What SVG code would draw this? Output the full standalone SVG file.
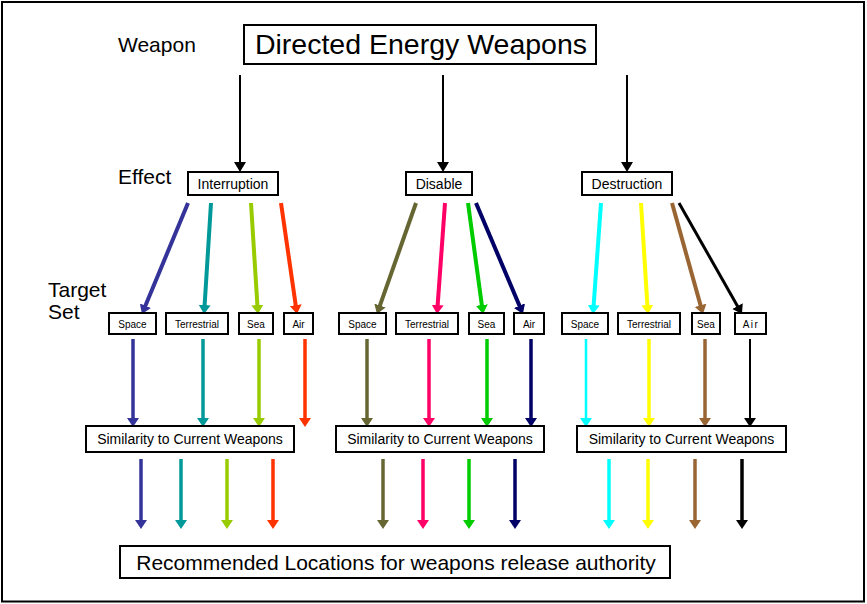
<svg xmlns="http://www.w3.org/2000/svg" width="867" height="604" viewBox="0 0 867 604">
<style>
  text { font-family: "Liberation Sans", Arial, sans-serif; fill: #000; }
  .box { fill: #fff; stroke: #000; stroke-width: 2; }
  .lbl { font-size: 21px; }
  .eff { font-size: 14px; text-anchor: middle; }
  .tgt { font-size: 10px; text-anchor: middle; }
  .sim { font-size: 14px; text-anchor: middle; }
</style>
<defs>
  <marker id="mk" markerUnits="userSpaceOnUse" markerWidth="14" markerHeight="14" refX="6" refY="6" orient="auto" viewBox="0 0 14 14"><path d="M0,0 L10,6 L0,12 z" fill="#000"/></marker>
  <marker id="m1" markerUnits="userSpaceOnUse" markerWidth="14" markerHeight="14" refX="5" refY="6" orient="auto" viewBox="0 0 14 14"><path d="M0,0 L9,6 L0,12 z" fill="#333399"/></marker>
  <marker id="m2" markerUnits="userSpaceOnUse" markerWidth="14" markerHeight="14" refX="5" refY="6" orient="auto" viewBox="0 0 14 14"><path d="M0,0 L9,6 L0,12 z" fill="#009999"/></marker>
  <marker id="m3" markerUnits="userSpaceOnUse" markerWidth="14" markerHeight="14" refX="5" refY="6" orient="auto" viewBox="0 0 14 14"><path d="M0,0 L9,6 L0,12 z" fill="#99CC00"/></marker>
  <marker id="m4" markerUnits="userSpaceOnUse" markerWidth="14" markerHeight="14" refX="5" refY="6" orient="auto" viewBox="0 0 14 14"><path d="M0,0 L9,6 L0,12 z" fill="#FF3300"/></marker>
  <marker id="m5" markerUnits="userSpaceOnUse" markerWidth="14" markerHeight="14" refX="5" refY="6" orient="auto" viewBox="0 0 14 14"><path d="M0,0 L9,6 L0,12 z" fill="#666633"/></marker>
  <marker id="m6" markerUnits="userSpaceOnUse" markerWidth="14" markerHeight="14" refX="5" refY="6" orient="auto" viewBox="0 0 14 14"><path d="M0,0 L9,6 L0,12 z" fill="#FF0066"/></marker>
  <marker id="m7" markerUnits="userSpaceOnUse" markerWidth="14" markerHeight="14" refX="5" refY="6" orient="auto" viewBox="0 0 14 14"><path d="M0,0 L9,6 L0,12 z" fill="#00CC00"/></marker>
  <marker id="m8" markerUnits="userSpaceOnUse" markerWidth="14" markerHeight="14" refX="5" refY="6" orient="auto" viewBox="0 0 14 14"><path d="M0,0 L9,6 L0,12 z" fill="#000066"/></marker>
  <marker id="m9" markerUnits="userSpaceOnUse" markerWidth="14" markerHeight="14" refX="5" refY="6" orient="auto" viewBox="0 0 14 14"><path d="M0,0 L9,6 L0,12 z" fill="#00FFFF"/></marker>
  <marker id="m10" markerUnits="userSpaceOnUse" markerWidth="14" markerHeight="14" refX="5" refY="6" orient="auto" viewBox="0 0 14 14"><path d="M0,0 L9,6 L0,12 z" fill="#FFFF00"/></marker>
  <marker id="m11" markerUnits="userSpaceOnUse" markerWidth="14" markerHeight="14" refX="5" refY="6" orient="auto" viewBox="0 0 14 14"><path d="M0,0 L9,6 L0,12 z" fill="#996633"/></marker>
  <marker id="m12" markerUnits="userSpaceOnUse" markerWidth="14" markerHeight="14" refX="5" refY="6" orient="auto" viewBox="0 0 14 14"><path d="M0,0 L9,6 L0,12 z" fill="#000"/></marker>
</defs>

<rect x="2" y="2" width="862" height="599.5" fill="#fff" stroke="#000" stroke-width="2"/>

<g id="labels">
  <text class="lbl" x="118" y="52">Weapon</text>
  <text class="lbl" x="118" y="184">Effect</text>
  <text class="lbl" x="48" y="297">Target</text>
  <text class="lbl" x="48" y="319">Set</text>
</g>

<g id="connectors">
  <g stroke="#000" stroke-width="2" marker-end="url(#mk)">
    <line x1="240" y1="75" x2="240" y2="168"/>
    <line x1="443" y1="75" x2="443" y2="168"/>
    <line x1="627" y1="75" x2="627" y2="168"/>
  </g>
  <g stroke-width="4">
    <line x1="188" y1="203" x2="143.5" y2="310.3" stroke="#333399" marker-end="url(#m1)"/>
    <line x1="211" y1="203" x2="204.3" y2="310" stroke="#009999" marker-end="url(#m2)"/>
    <line x1="251" y1="203" x2="257.7" y2="310" stroke="#99CC00" marker-end="url(#m3)"/>
    <line x1="281" y1="203" x2="296.4" y2="310" stroke="#FF3300" marker-end="url(#m4)"/>
    <line x1="416" y1="203" x2="378.3" y2="310.2" stroke="#666633" marker-end="url(#m5)"/>
    <line x1="445" y1="203" x2="437.3" y2="310" stroke="#FF0066" marker-end="url(#m6)"/>
    <line x1="468" y1="203" x2="482.5" y2="310" stroke="#00CC00" marker-end="url(#m7)"/>
    <line x1="476" y1="203" x2="521.4" y2="310.3" stroke="#000066" marker-end="url(#m8)"/>
    <line x1="601" y1="203" x2="593.3" y2="310" stroke="#00FFFF" marker-end="url(#m9)"/>
    <line x1="641" y1="203" x2="647.7" y2="310" stroke="#FFFF00" marker-end="url(#m10)"/>
    <line x1="672" y1="203" x2="701.9" y2="310.1" stroke="#996633" marker-end="url(#m11)"/>
    <line x1="679" y1="203" x2="740" y2="310.5" stroke="#000" stroke-width="3" marker-end="url(#m12)"/>
  </g>
  <g stroke-width="3.5">
    <line x1="133" y1="339" x2="133" y2="423" stroke="#333399" marker-end="url(#m1)"/>
    <line x1="203" y1="339" x2="203" y2="423" stroke="#009999" marker-end="url(#m2)"/>
    <line x1="259" y1="339" x2="259" y2="423" stroke="#99CC00" marker-end="url(#m3)"/>
    <line x1="305" y1="339" x2="305" y2="423" stroke="#FF3300" marker-end="url(#m4)"/>
    <line x1="367" y1="339" x2="367" y2="423" stroke="#666633" marker-end="url(#m5)"/>
    <line x1="429" y1="339" x2="429" y2="423" stroke="#FF0066" marker-end="url(#m6)"/>
    <line x1="487" y1="339" x2="487" y2="423" stroke="#00CC00" marker-end="url(#m7)"/>
    <line x1="531" y1="339" x2="531" y2="423" stroke="#000066" marker-end="url(#m8)"/>
    <line x1="586" y1="339" x2="586" y2="423" stroke="#00FFFF" stroke-width="2.5" marker-end="url(#m9)"/>
    <line x1="649" y1="339" x2="649" y2="423" stroke="#FFFF00" marker-end="url(#m10)"/>
    <line x1="705" y1="339" x2="705" y2="423" stroke="#996633" marker-end="url(#m11)"/>
    <line x1="750" y1="339" x2="750" y2="423" stroke="#000" stroke-width="2" marker-end="url(#m12)"/>
  </g>
  <g stroke-width="3.5">
    <line x1="141" y1="459" x2="141" y2="525" stroke="#333399" marker-end="url(#m1)"/>
    <line x1="181" y1="459" x2="181" y2="525" stroke="#009999" marker-end="url(#m2)"/>
    <line x1="227" y1="459" x2="227" y2="525" stroke="#99CC00" marker-end="url(#m3)"/>
    <line x1="273" y1="459" x2="273" y2="525" stroke="#FF3300" marker-end="url(#m4)"/>
    <line x1="383" y1="459" x2="383" y2="525" stroke="#666633" marker-end="url(#m5)"/>
    <line x1="423" y1="459" x2="423" y2="525" stroke="#FF0066" marker-end="url(#m6)"/>
    <line x1="469" y1="459" x2="469" y2="525" stroke="#00CC00" marker-end="url(#m7)"/>
    <line x1="515" y1="459" x2="515" y2="525" stroke="#000066" marker-end="url(#m8)"/>
    <line x1="609" y1="459" x2="609" y2="525" stroke="#00FFFF" marker-end="url(#m9)"/>
    <line x1="648" y1="459" x2="648" y2="525" stroke="#FFFF00" marker-end="url(#m10)"/>
    <line x1="695" y1="459" x2="695" y2="525" stroke="#996633" marker-end="url(#m11)"/>
    <line x1="742" y1="459" x2="742" y2="525" stroke="#000" marker-end="url(#m12)"/>
  </g>
</g>

<g id="weapon">
  <rect class="box" x="244" y="25" width="352" height="39"/>
  <text x="421" y="54" font-size="28.5" text-anchor="middle">Directed Energy Weapons</text>
</g>

<g id="interruption">
  <rect class="box" x="188" y="172" width="90" height="23"/>
  <text class="eff" x="233" y="189">Interruption</text>
</g>
<g id="disable">
  <rect class="box" x="406" y="172" width="66" height="23"/>
  <text class="eff" x="439" y="189">Disable</text>
</g>
<g id="destruction">
  <rect class="box" x="582" y="172" width="90" height="23"/>
  <text class="eff" x="627" y="189">Destruction</text>
</g>

<g id="int-space"><rect class="box" x="109" y="313" width="47" height="21"/><text class="tgt" x="132.5" y="328">Space</text></g>
<g id="int-terrestrial"><rect class="box" x="166" y="313" width="62" height="21"/><text class="tgt" x="197" y="328">Terrestrial</text></g>
<g id="int-sea"><rect class="box" x="239" y="313" width="34" height="21"/><text class="tgt" x="256" y="328">Sea</text></g>
<g id="int-air"><rect class="box" x="284" y="313" width="29" height="21"/><text class="tgt" x="298.5" y="328">Air</text></g>

<g id="dis-space"><rect class="box" x="339" y="313" width="47" height="21"/><text class="tgt" x="362.5" y="328">Space</text></g>
<g id="dis-terrestrial"><rect class="box" x="396" y="313" width="62" height="21"/><text class="tgt" x="427" y="328">Terrestrial</text></g>
<g id="dis-sea"><rect class="box" x="469" y="313" width="35" height="21"/><text class="tgt" x="486.5" y="328">Sea</text></g>
<g id="dis-air"><rect class="box" x="514" y="313" width="30" height="21"/><text class="tgt" x="529" y="328">Air</text></g>

<g id="des-space"><rect class="box" x="562" y="313" width="46" height="21"/><text class="tgt" x="585" y="328">Space</text></g>
<g id="des-terrestrial"><rect class="box" x="618" y="313" width="62" height="21"/><text class="tgt" x="649" y="328">Terrestrial</text></g>
<g id="des-sea"><rect class="box" x="692" y="313" width="28" height="21"/><text class="tgt" x="706" y="328">Sea</text></g>
<g id="des-air"><rect class="box" x="735" y="313" width="31" height="21"/><text class="tgt" x="751" y="328" letter-spacing="1.5">Air</text></g>

<g id="sim-1"><rect class="box" x="86" y="426" width="208" height="26"/><text class="sim" x="190" y="444">Similarity to Current Weapons</text></g>
<g id="sim-2"><rect class="box" x="336" y="426" width="208" height="26"/><text class="sim" x="440" y="444">Similarity to Current Weapons</text></g>
<g id="sim-3"><rect class="box" x="577" y="426" width="209" height="26"/><text class="sim" x="681.5" y="444">Similarity to Current Weapons</text></g>

<g id="recommended">
  <rect class="box" x="120" y="546" width="550" height="32"/>
  <text x="396" y="570" font-size="21" text-anchor="middle">Recommended Locations for weapons release authority</text>
</g>
</svg>
